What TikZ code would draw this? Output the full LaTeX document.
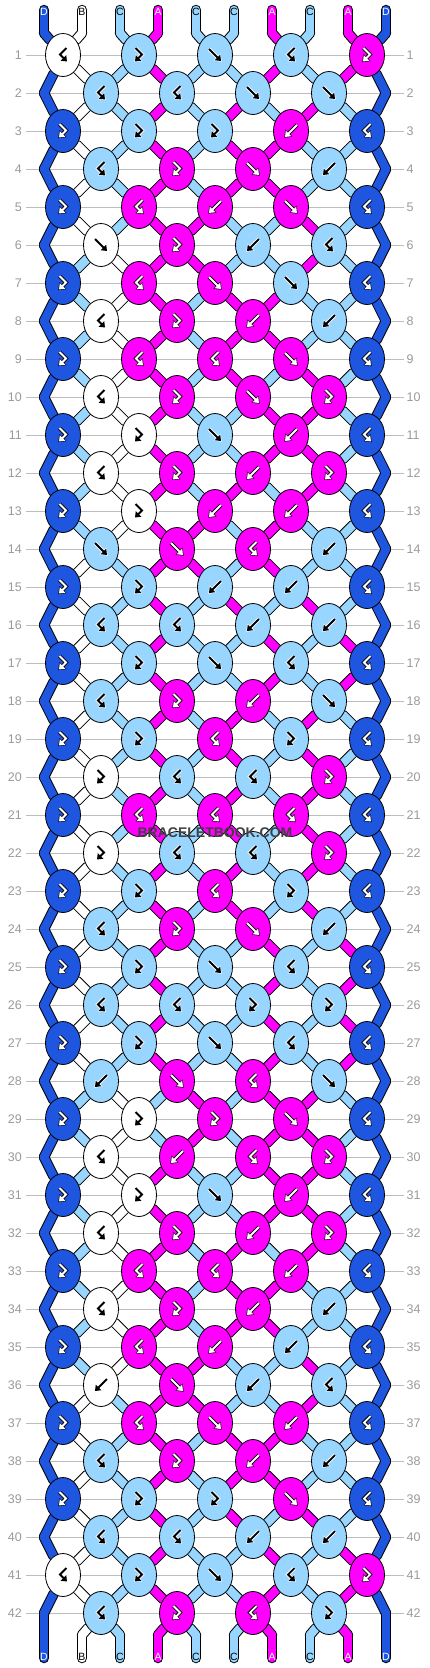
\documentclass[tikz,border=0pt]{standalone}
\usepackage{fontspec}
\setmainfont{Liberation Sans}
\usetikzlibrary{shapes.geometric,arrows.meta}

\definecolor{strA}{HTML}{FF00FF}
\definecolor{strB}{HTML}{FFFFFF}
\definecolor{strC}{HTML}{99D6FF}
\definecolor{strD}{HTML}{1E56E0}
\definecolor{linegray}{HTML}{BDBDBD}
\definecolor{numgray}{HTML}{9A9A9A}
\definecolor{markgray}{HTML}{404040}

\pgfdeclarelayer{back}
\pgfdeclarelayer{mid}
\pgfsetlayers{back,mid,main}

% string at position #2 after row #1 -> the knot (or end point) it goes through
\newcommand\knotof[2]{%
  \ifnum#1=0 \edef\kn{0-#2}\else
  \ifnum#1=43 \edef\kn{43-#2}\else
  \ifodd#1 \pgfmathtruncatemacro\kq{div(#2,2)+1}\else\pgfmathtruncatemacro\kq{div(#2+1,2)}\fi
  \edef\kn{#1-\kq}\fi\fi}

% f = forward, b = backward, p = forward-backward, q = backward-forward
\newcommand\kglyph[2]{%
  \if#1f\draw[#2] (-6,-6) -- (6,6);\fi
  \if#1b\draw[#2] (6,-6) -- (-6,6);\fi
  \if#1p\draw[#2] (-3.5,-7) -- (3,-0.5) -- (-4,6.5);\fi
  \if#1q\draw[#2] (3.5,-7) -- (-3,-0.5) -- (4,6.5);\fi}

% all string pieces, drawn with style #1 (colour of each string added)
\newcommand\strings[1]{%
  \foreach \row in {0,...,42} {
    \pgfmathtruncatemacro\nr{\row+1}
    \foreach \p in {0,...,9} {
      \knotof{\row}{\p}\let\fn\kn
      \knotof{\nr}{\p}\let\tn\kn
      \edef\segc{\csname s-\row-\p\endcsname}
      \draw[#1] (\fn) -- (\tn);
    }
  }
  \foreach \p in {0,...,9} {
    \edef\segc{\csname s-0-\p\endcsname}
    \draw[#1] (u-\p) -- (0-\p);
    \edef\segc{\csname s-42-\p\endcsname}
    \draw[#1] (43-\p) -- (d-\p);
  }}

\begin{document}
\begin{tikzpicture}[x=1pt,y=-1pt]
\tikzstyle{knot}=[ellipse, draw=black, line width=0.8pt, minimum width=35pt, minimum height=43pt, inner sep=0pt]
\tikzstyle{strout}=[black, line width=10.5pt, line cap=round]
\tikzstyle{strin}=[draw=str\segc, line width=8.5pt, line cap=round]
\tikzstyle{halo}=[line width=3.6pt, -{Triangle[length=6.5pt,width=9.5pt]}, shorten >=-1pt]
\tikzstyle{arw}=[line width=1.8pt, -{Triangle[length=5pt,width=7.5pt]}]
\tikzstyle{rowline}=[linegray, line width=1pt]
\tikzstyle{rownum}=[numgray, inner sep=0pt, font=\fontsize{12.5}{14}\selectfont]
\tikzstyle{endlbl}=[inner sep=0pt, font=\fontsize{10.5}{12}\selectfont]

\useasboundingbox (0,0) rectangle (430,1668);

% string ends, starting order
\foreach \ec [count=\p from 0] in {D,B,C,A,C,C,A,C,A,D} {
  \pgfmathsetmacro\sx{44+38*\p}
  \coordinate (u-\p) at (\sx,10);
  \coordinate (0-\p) at (\sx,33);
  \coordinate (43-\p) at (\sx,1635);
  \coordinate (d-\p) at (\sx,1658);
  \expandafter\xdef\csname st\p\endcsname{\ec}
  \expandafter\xdef\csname s-0-\p\endcsname{\ec}
}

% knots, row by row
\foreach \ts [count=\row] in {%
{q,p,f,q,p},%1
{q,q,f,f},%2
{p,p,p,b,q},%3
{q,p,f,b},%4
{p,q,b,f,q},%5
{f,p,b,q},%6
{p,q,f,f,q},%7
{q,p,b,b},%8
{p,q,q,f,q},%9
{q,p,f,p},%10
{p,p,f,b,q},%11
{q,p,b,p},%12
{p,p,b,b,q},%13
{f,f,q,b},%14
{p,p,b,b,q},%15
{q,q,b,b},%16
{p,p,f,q,q},%17
{q,p,b,f},%18
{p,p,q,p,q},%19
{p,q,q,p},%20
{p,q,q,q,q},%21
{p,q,q,p},%22
{p,p,q,p,q},%23
{q,p,f,b},%24
{p,p,f,q,q},%25
{q,q,p,p},%26
{p,p,f,q,q},%27
{b,f,q,f},%28
{p,p,p,f,q},%29
{q,b,q,p},%30
{p,p,f,b,q},%31
{q,p,b,p},%32
{p,q,q,b,q},%33
{q,p,b,b},%34
{p,q,b,b,q},%35
{b,f,b,q},%36
{p,q,f,b,q},%37
{q,p,b,b},%38
{p,p,p,f,q},%39
{q,q,b,b},%40
{q,p,f,q,p},%41
{q,p,q,p}%42
} {
  \pgfmathsetmacro\ky{55+38*(\row-1)}
  \node[rownum, anchor=east] (nl-\row) at (22,\ky) {\row};
  \node[rownum, anchor=west] (nr-\row) at (406.5,\ky) {\row};
  \ifodd\row\else
    \coordinate (\row-0) at (44,\ky);
    \coordinate (\row-5) at (386,\ky);
  \fi
  \foreach \kt [count=\i] in \ts {
    \ifodd\row
      \pgfmathtruncatemacro\lp{2*\i-2}\pgfmathsetmacro\kx{63+76*(\i-1)}
    \else
      \pgfmathtruncatemacro\lp{2*\i-1}\pgfmathsetmacro\kx{101+76*(\i-1)}
    \fi
    \pgfmathtruncatemacro\rp{\lp+1}
    \edef\lc{\csname st\lp\endcsname}
    \edef\rc{\csname st\rp\endcsname}
    \if\kt f\let\kc\lc\fi
    \if\kt p\let\kc\lc\fi
    \if\kt b\let\kc\rc\fi
    \if\kt q\let\kc\rc\fi
    \node[knot, fill=str\kc] (\row-\i) at (\kx,\ky) {};
    \if\kc B\def\gc{black}\def\hc{white}\else
    \if\kc C\def\gc{black}\def\hc{white}\else
    \def\gc{white}\def\hc{black}\fi\fi
    \begin{scope}[shift={(\row-\i)}]
    \kglyph{\kt}{halo,draw=\hc}
    \kglyph{\kt}{arw,draw=\gc}
    \end{scope}
    \if\kt f\expandafter\xdef\csname st\lp\endcsname{\rc}\expandafter\xdef\csname st\rp\endcsname{\lc}\fi
    \if\kt b\expandafter\xdef\csname st\lp\endcsname{\rc}\expandafter\xdef\csname st\rp\endcsname{\lc}\fi
  }
  \foreach \p in {0,...,9} {\expandafter\xdef\csname s-\row-\p\endcsname{\csname st\p\endcsname}}
}

% paper, row lines and string outlines
\begin{pgfonlayer}{back}
\fill[white] (0,0) rectangle (430,1668);
\foreach \row in {1,...,42} {
  \pgfmathsetmacro\ky{55+38*(\row-1)}
  \draw[rowline] (26,\ky) -- (404,\ky);
}
\strings{strout}
\end{pgfonlayer}

% string colours
\begin{pgfonlayer}{mid}
\strings{strin}
\end{pgfonlayer}

% letters on the loose ends
\foreach \p in {0,...,9} {
  \pgfmathsetmacro\sx{44+38*\p}
  \edef\topc{\csname s-0-\p\endcsname}
  \edef\botc{\csname s-42-\p\endcsname}
  \if\topc B\def\tc{black}\else\if\topc C\def\tc{black}\else\def\tc{white}\fi\fi
  \node[endlbl, text=\tc] (lt-\p) at (\sx,12) {\topc};
  \if\botc B\def\tc{black}\else\if\botc C\def\tc{black}\else\def\tc{white}\fi\fi
  \node[endlbl, text=\tc] (lb-\p) at (\sx,1656.5) {\botc};
}

\node[markgray, inner sep=0pt, font=\bfseries\fontsize{14}{16}\selectfont] (mark) at (215,833) {BRACELETBOOK.COM};
\end{tikzpicture}
\end{document}
